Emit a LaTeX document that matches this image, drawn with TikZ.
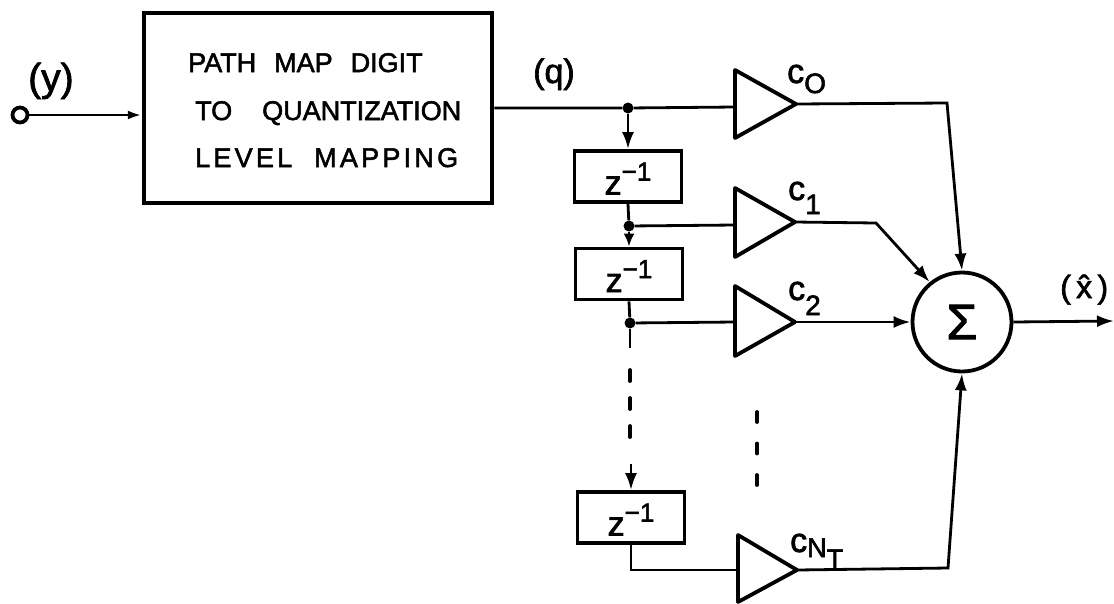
\documentclass[tikz,border=0pt]{standalone}
\usepackage{fontspec}
\setmainfont{Liberation Sans}[FakeBold=2]
\usetikzlibrary{arrows.meta,shapes.geometric}
\newcommand{\fsz}[1]{\fontsize{#1}{#1}\selectfont}
\tikzset{
  wire/.style={line width=2.8pt,black,line join=miter},
  feed/.style={wire,-{Latex[length=17pt,width=12pt]}},
  shortfeed/.style={wire,-{Latex[length=13pt,width=11pt]}},
  smallfeed/.style={wire,-{Latex[length=14pt,width=9pt]}},
  boxx/.style={draw=black,line width=4.5pt,inner sep=0pt},
  delay/.style={draw=black,line width=3.8pt,inner sep=0pt,minimum width=107pt,minimum height=51pt,text height=36pt,text depth=0pt,font=\fsz{34}},
  amp/.style={draw=black,line width=3.8pt,line join=round},
  dot/.style={circle,fill=black,inner sep=0pt,minimum size=11pt},
  lab/.style={inner sep=0pt,anchor=base west,font=\fsz{34}},
  maplab/.style={inner sep=0pt,anchor=base west,font=\fsz{27}},
  dashline/.style={black,line width=3.8pt,line cap=round},
}
\newcommand{\zinv}{z\raisebox{14pt}{\fsz{26}−1}}
\begin{document}
\begin{tikzpicture}[x=1pt,y=-1pt]
\useasboundingbox (0,0) rectangle (1114,603);
\node[boxx,minimum width=348pt,minimum height=190pt] (map) at (318,108) {};
\node[maplab] (l1) at (188,72) {PATH\hspace{18pt}MAP\hspace{18pt}DIGIT};
\node[maplab] (l2) at (195,120) {TO\hspace{30pt}QUANTIZATION};
\node[maplab] (l3) at (195,167) {\addfontfeature{LetterSpace=12}LEVEL\hspace{22pt}MAPPING};
\node[circle,draw=black,line width=3.8pt,minimum size=15pt,inner sep=0pt] (in) at (20,115) {};
\draw[smallfeed] (in) -- (map.west|-in);
\node[lab,font=\fsz{39}] (ly) at (28,91) {(y)};
\node[lab] (lq) at (533,83) {(q)};
% delays
\node[delay] (d1) at (628,176.5) {\zinv};
\node[delay] (d2) at (629,274) {\zinv};
\node[delay] (d3) at (631,517.5) {\zinv};
\node[dot] (j0) at (628,108) {};
\node[dot] (j1) at (629,226) {};
\node[dot] (j2) at (630,323) {};
\coordinate (a0) at (735,107);
\coordinate (a1) at (735,225);
\coordinate (a2) at (735,322);
\coordinate (a3) at (738,570);
\coordinate (t0) at (796,104);
\coordinate (t1) at (795,222);
\coordinate (t2) at (795,322);
\coordinate (t3) at (797,570);
\draw[amp] (735,70) -- (t0) -- (735,138) -- cycle;
\draw[amp] (735,188) -- (t1) -- (735,257) -- cycle;
\draw[amp] (735,286) -- (t2) -- (735,356) -- cycle;
\draw[amp] (738,535) -- (t3) -- (738,602) -- cycle;
\draw[wire] (map.east|-j0) -- (j0) -- (a0);
\draw[feed] (j0) -- (d1.north);
\draw[wire] (d1.south) -- (j1) -- (a1);
\draw[shortfeed] (j1) -- (d2.north);
\draw[wire] (d2.south) -- (j2) -- (a2);
\coordinate (e1) at (630,348);
\draw[wire] (j2) -- (e1);
\coordinate (e2) at (630,370);
\coordinate (e3) at (630,438);
\draw[dashline,dash pattern=on 11pt off 17pt] (e2) -- (e3);
\coordinate (e4) at (631,464);
\draw[feed] (e4) -- (d3.north);
\draw[wire] (d3.south) |- (a3);
\coordinate (v1) at (757,412);
\coordinate (v2) at (757,486);
\draw[dashline,dash pattern=on 10pt off 21.5pt] (v1) -- (v2);
% sum
\node[circle,draw=black,line width=3.8pt,minimum size=99pt,inner sep=0pt,font=\fsz{50}] (s) at (962,322) {Σ};
\coordinate (k0) at (947,103);
\draw[feed] (t0) -- (k0) -- (s.north);
\coordinate (k1) at (876,223);
\draw[feed] (t1) -- (k1) -- (s.129);
\draw[feed] (t2) -- (s.west);
\coordinate (k3) at (948,568);
\draw[feed] (t3) -- (k3) -- (s.south);
\coordinate (o) at (1114,321);
\draw[feed] (s.east) -- (o);
\node[lab] (c0) at (787,83) {c\raisebox{-10pt}{\fsz{28}O}};
\node[lab] (c1) at (788,200) {c\raisebox{-14pt}{\fsz{28}1}};
\node[lab] (c2) at (788,300) {c\raisebox{-15pt}{\fsz{28}2}};
\node[lab] (c3) at (790,552) {c\raisebox{-5pt}{\fsz{27}N}\raisebox{-16pt}{\fsz{27}T}};
\node[lab,font=\fsz{32}] (xh) at (1060,298) {(\,x̂\,)};
\end{tikzpicture}
\end{document}
